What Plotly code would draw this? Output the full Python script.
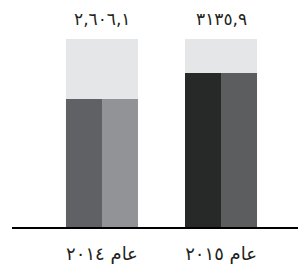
import plotly.graph_objects as go

categories = ["عام ٢٠١٤", "عام ٢٠١٥"]
values = [2606.1, 3135.9]
value_labels = ["٢,٦٠٦,١", "٣١٣٥,٩"]
background_max = [3830, 3830]

left_colors = ["#606164", "#272928"]
right_colors = ["#929396", "#5c5d5f"]
bg_color = "#e5e6e8"

W = 0.605
half = W / 2

fig = go.Figure()
fig.add_trace(go.Bar(x=categories, y=background_max, width=[W, W], offset=-half,
                     marker=dict(color=bg_color, line=dict(width=0)), hoverinfo="skip"))
fig.add_trace(go.Bar(x=categories, y=values, width=[half, half], offset=-half,
                     marker=dict(color=left_colors, line=dict(width=0))))
fig.add_trace(go.Bar(x=categories, y=values, width=[half, half], offset=0,
                     marker=dict(color=right_colors, line=dict(width=0))))

for c, lab, top in zip(categories, value_labels, background_max):
    fig.add_annotation(x=c, y=top, text=lab, showarrow=False, yanchor="bottom",
                       yshift=8, font=dict(size=17, color="#231f20", family="DejaVu Sans"))

# page body has an 8px default margin; size/margins compensate for it
fig.update_layout(
    width=298, height=256, barmode="overlay", showlegend=False,
    margin=dict(l=4, r=0, t=31, b=37, pad=0),
    paper_bgcolor="white", plot_bgcolor="white",
    xaxis=dict(type="category", range=[-0.756, 1.714], showgrid=False, zeroline=False,
               automargin=False, ticklabelstandoff=9,
               showline=True, linecolor="black", linewidth=2, layer="below traces",
               ticks="", tickfont=dict(size=18, color="#231f20", family="DejaVu Sans")),
    yaxis=dict(range=[0, 3830], visible=False, showgrid=False, zeroline=False,
               automargin=False),
)

fig.write_html("out.html")
